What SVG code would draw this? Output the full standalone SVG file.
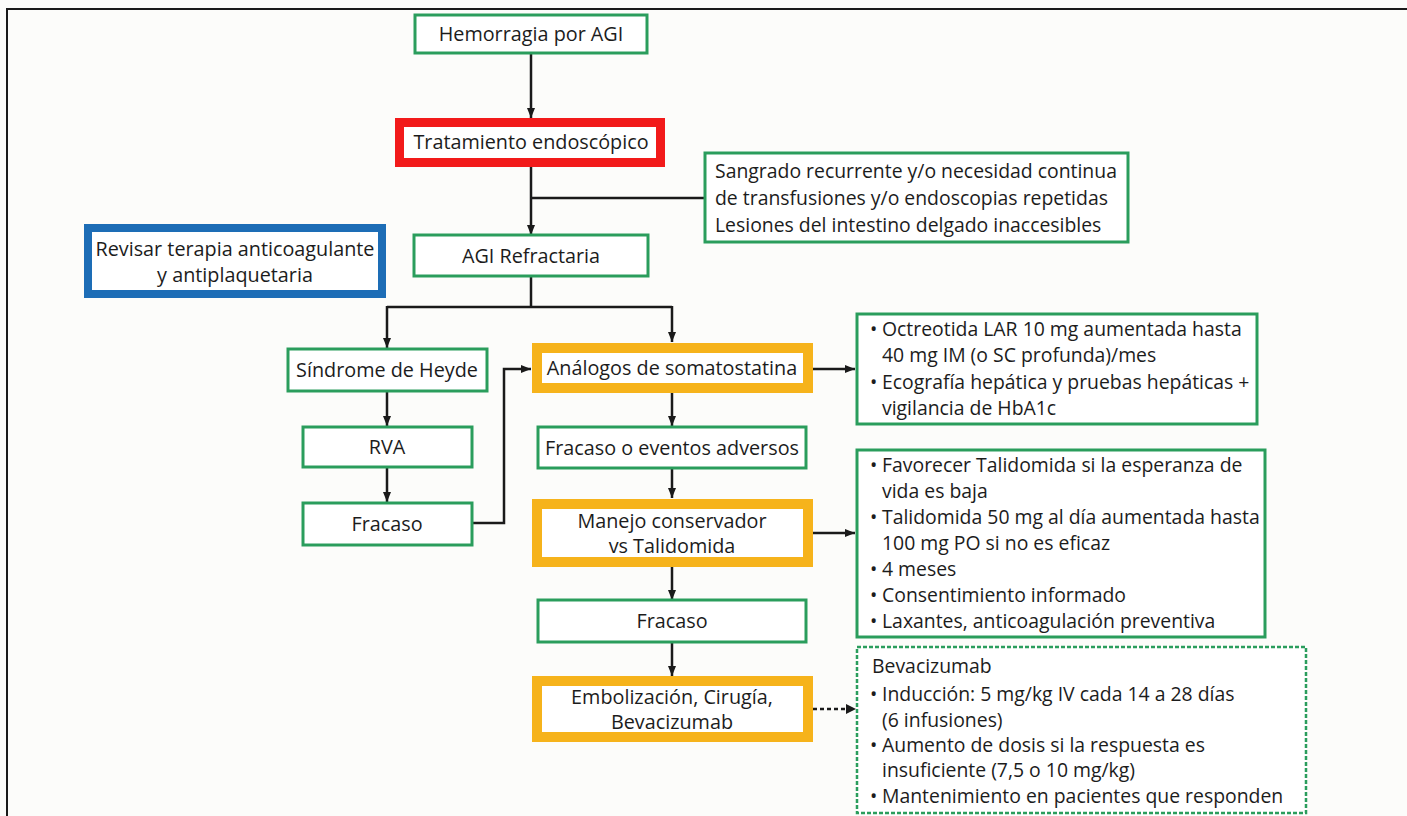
<svg xmlns="http://www.w3.org/2000/svg" width="1407" height="816" viewBox="0 0 1407 816">
<defs>
<style>
text{font-family:"Open Sans","Liberation Sans",sans-serif;font-size:19.4px;fill:#1c1c1c}
.c{text-anchor:middle;font-size:19.8px}
.g{fill:#fff;stroke:#2a9d5c;stroke-width:3}
.gd{fill:#fff;stroke:#2a9d5c;stroke-width:2.5;stroke-dasharray:4 2}
.o{fill:#fff;stroke:#f6b31b;stroke-width:10}
.r{fill:#fff;stroke:#f21a1a;stroke-width:9}
.b{fill:#fff;stroke:#1d6db6;stroke-width:8}
.ln{fill:none;stroke:#1a1a1a;stroke-width:2.5}
.dl{fill:none;stroke:#1a1a1a;stroke-width:2.5;stroke-dasharray:4 3}
</style>
<marker id="ah" viewBox="0 0 10 10" refX="10" refY="5" markerWidth="10" markerHeight="10" markerUnits="userSpaceOnUse" orient="auto">
<path d="M0,1 L10,5 L0,9 z" fill="#1a1a1a"/>
</marker>
</defs>
<rect width="1407" height="816" fill="#fcfcfa"/>
<path d="M7,816 V9 H1407" fill="none" stroke="#1a1a1a" stroke-width="2"/>

<g id="connectors">
<path class="ln" d="M531,53 V118" marker-end="url(#ah)"/>
<path class="ln" d="M531,167 V235" marker-end="url(#ah)"/>
<path class="ln" d="M531,198 H705"/>
<path class="ln" d="M531,276 V307"/>
<path class="ln" d="M387,307 H672"/>
<path class="ln" d="M387,306 V348" marker-end="url(#ah)"/>
<path class="ln" d="M672,306 V342" marker-end="url(#ah)"/>
<path class="ln" d="M387,391 V426" marker-end="url(#ah)"/>
<path class="ln" d="M387,467 V502" marker-end="url(#ah)"/>
<path class="ln" d="M472,523 H504 V369 H531" marker-end="url(#ah)"/>
<path class="ln" d="M813,369 H855" marker-end="url(#ah)"/>
<path class="ln" d="M672,393 V426" marker-end="url(#ah)"/>
<path class="ln" d="M672,468 V498" marker-end="url(#ah)"/>
<path class="ln" d="M813,533 H855" marker-end="url(#ah)"/>
<path class="ln" d="M672,567 V600" marker-end="url(#ah)"/>
<path class="ln" d="M672,642 V676" marker-end="url(#ah)"/>
<path class="dl" d="M813,709 H846"/>
<path d="M846,704 L856,709 L846,714 z" fill="#1a1a1a"/>
</g>

<g id="hemorragia">
<rect class="g" x="415" y="15" width="232" height="38"/>
<text class="c" x="531" y="41">Hemorragia por AGI</text>
</g>

<g id="tratamiento">
<rect class="r" x="399.5" y="122.5" width="261" height="40"/>
<text class="c" x="531" y="149">Tratamiento endoscópico</text>
</g>

<g id="sangrado">
<rect class="g" x="705" y="153" width="423" height="89"/>
<text x="715" y="178">Sangrado recurrente y/o necesidad continua</text>
<text x="715" y="205">de transfusiones y/o endoscopias repetidas</text>
<text x="715" y="232">Lesiones del intestino delgado inaccesibles</text>
</g>

<g id="revisar">
<rect class="b" x="88" y="228" width="294" height="66"/>
<text class="c" x="235" y="256">Revisar terapia anticoagulante</text>
<text class="c" x="235" y="282">y antiplaquetaria</text>
</g>

<g id="agi-refractaria">
<rect class="g" x="414" y="235" width="234" height="41"/>
<text class="c" x="531" y="263">AGI Refractaria</text>
</g>

<g id="heyde">
<rect class="g" x="288" y="349" width="199" height="42"/>
<text class="c" x="387" y="377">Síndrome de Heyde</text>
</g>

<g id="rva">
<rect class="g" x="303" y="427" width="169" height="40"/>
<text class="c" x="387" y="454">RVA</text>
</g>

<g id="fracaso-izq">
<rect class="g" x="303" y="503" width="169" height="42"/>
<text class="c" x="387" y="531">Fracaso</text>
</g>

<g id="analogos">
<rect class="o" x="537" y="348" width="271" height="40"/>
<text class="c" x="672" y="375">Análogos de somatostatina</text>
</g>

<g id="octreotida">
<rect class="g" x="857" y="314" width="400" height="110"/>
<text x="870" y="336">•</text><text x="882" y="336">Octreotida LAR 10 mg aumentada hasta</text>
<text x="882" y="362">40 mg IM (o SC profunda)/mes</text>
<text x="870" y="389">•</text><text x="882" y="389">Ecografía hepática y pruebas hepáticas +</text>
<text x="882" y="415">vigilancia de HbA1c</text>
</g>

<g id="fracaso-eventos">
<rect class="g" x="538" y="427" width="268" height="41"/>
<text class="c" x="672" y="455">Fracaso o eventos adversos</text>
</g>

<g id="manejo">
<rect class="o" x="537" y="504" width="271" height="58"/>
<text class="c" x="672" y="528">Manejo conservador</text>
<text class="c" x="672" y="553">vs Talidomida</text>
</g>

<g id="talidomida">
<rect class="g" x="857" y="450" width="408" height="187"/>
<text x="870" y="472">•</text><text x="882" y="472">Favorecer Talidomida si la esperanza de</text>
<text x="882" y="498">vida es baja</text>
<text x="870" y="524">•</text><text x="882" y="524">Talidomida 50 mg al día aumentada hasta</text>
<text x="882" y="550">100 mg PO si no es eficaz</text>
<text x="870" y="576">•</text><text x="882" y="576">4 meses</text>
<text x="870" y="602">•</text><text x="882" y="602">Consentimiento informado</text>
<text x="870" y="628">•</text><text x="882" y="628">Laxantes, anticoagulación preventiva</text>
</g>

<g id="fracaso-centro">
<rect class="g" x="538" y="600" width="268" height="42"/>
<text class="c" x="672" y="628">Fracaso</text>
</g>

<g id="embolizacion">
<rect class="o" x="537" y="681" width="271" height="56"/>
<text class="c" x="672" y="704">Embolización, Cirugía,</text>
<text class="c" x="672" y="729">Bevacizumab</text>
</g>

<g id="bevacizumab">
<rect class="gd" x="857" y="647" width="449" height="166"/>
<text x="872" y="673">Bevacizumab</text>
<text x="870" y="701">•</text><text x="882" y="701">Inducción: 5 mg/kg IV cada 14 a 28 días</text>
<text x="882" y="727">(6 infusiones)</text>
<text x="870" y="752">•</text><text x="882" y="752">Aumento de dosis si la respuesta es</text>
<text x="882" y="777">insuficiente (7,5 o 10 mg/kg)</text>
<text x="870" y="803">•</text><text x="882" y="803">Mantenimiento en pacientes que responden</text>
</g>
</svg>
